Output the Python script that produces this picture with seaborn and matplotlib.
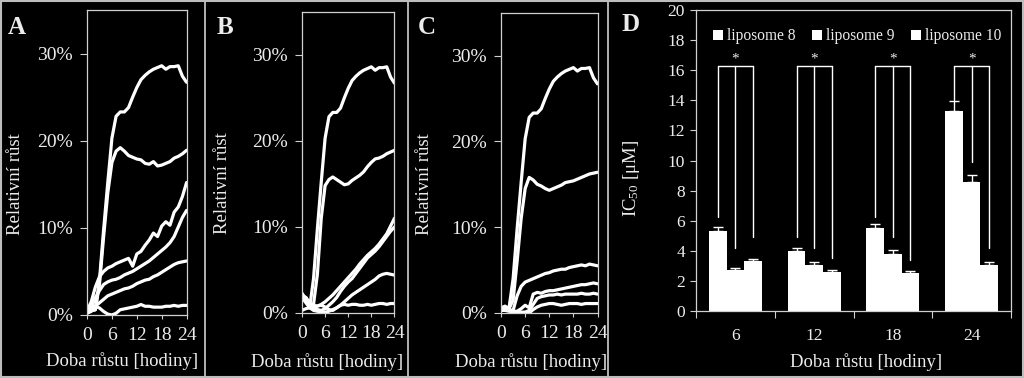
import matplotlib
matplotlib.use("Agg")
import matplotlib.pyplot as plt
from matplotlib.lines import Line2D
from matplotlib.ticker import PercentFormatter, FixedLocator
import pandas as pd
import seaborn as sns

# ---------------- data: growth curves (A-C), % relative growth ----------------
hours = list(range(25))
control = [0.3, 0.5, 0.6, 4.0, 9.8, 15.2, 20.3, 22.8, 23.3, 23.3, 23.8, 25.0, 26.1,
           27.0, 27.5, 27.9, 28.2, 28.4, 28.6, 28.2, 28.5, 28.5, 28.6, 27.4, 26.7]

a_c2 = [0.3, 0.5, 0.6, 3.5, 9.0, 14.0, 17.5, 18.8, 19.2, 18.8, 18.3, 18.1, 17.9,
        17.8, 17.4, 17.3, 17.6, 17.1, 17.2, 17.4, 17.6, 18.0, 18.2, 18.5, 18.9]
a_c3 = [0.5, 1.5, 3.2, 4.4, 5.0, 5.4, 5.6, 5.9, 6.1, 6.3, 6.5, 5.6, 7.0,
        7.3, 8.0, 8.6, 9.4, 9.0, 10.2, 10.7, 10.3, 11.8, 12.4, 13.6, 15.2]
a_c4 = [0.2, 0.8, 2.0, 2.8, 3.5, 3.8, 4.0, 4.1, 4.3, 4.6, 4.8, 5.0, 5.3,
        5.6, 5.9, 6.2, 6.6, 7.0, 7.4, 7.8, 8.3, 9.0, 10.1, 11.2, 12.0]
a_c5 = [0.2, 0.4, 1.0, 1.4, 1.8, 2.2, 2.4, 2.6, 2.8, 3.0, 3.1, 3.3, 3.6,
        3.8, 4.0, 4.1, 4.4, 4.6, 4.9, 5.2, 5.5, 5.8, 6.0, 6.1, 6.2]
a_c6 = [0.8, 0.9, 1.0, 0.8, 0.4, 0.1, 0.0, 0.2, 0.6, 0.7, 0.8, 0.9, 1.0,
        1.2, 1.0, 1.0, 0.9, 0.9, 0.9, 1.0, 1.0, 1.1, 1.0, 1.1, 1.1]

b_c2 = [2.0, 1.8, 1.0, 1.0, 4.5, 11.0, 14.8, 15.5, 15.8, 15.5, 15.2, 14.9, 15.0,
        15.4, 15.7, 16.0, 16.4, 17.0, 17.5, 17.9, 18.0, 18.2, 18.5, 18.7, 18.9]
b_c3 = [2.0, 1.8, 1.2, 0.9, 0.8, 1.0, 1.3, 1.7, 2.1, 2.6, 3.1, 3.6, 4.1,
        4.6, 5.1, 5.7, 6.2, 6.7, 7.1, 7.5, 8.0, 8.6, 9.2, 10.1, 11.0]
b_c4 = [2.2, 1.5, 0.8, 0.5, 0.4, 0.3, 0.5, 0.9, 1.3, 1.8, 2.5, 3.1, 3.6,
        4.0, 4.6, 5.2, 5.8, 6.4, 6.8, 7.2, 7.7, 8.3, 8.9, 9.5, 10.0]
b_c5 = [1.8, 1.2, 0.6, 0.3, 0.2, 0.1, 0.1, 0.2, 0.4, 0.6, 0.9, 1.3, 1.7,
        2.1, 2.4, 2.7, 3.0, 3.3, 3.6, 3.9, 4.3, 4.5, 4.6, 4.5, 4.4]
b_c6 = [2.3, 1.6, 0.9, 0.6, 0.8, 0.9, 0.7, 0.4, 0.3, 0.6, 0.9, 1.0, 0.9,
        1.0, 1.0, 0.9, 0.9, 1.0, 0.9, 1.0, 1.1, 1.1, 1.0, 1.1, 1.1]

c_c2 = [0.6, 0.8, 0.5, 1.5, 6.0, 11.0, 14.5, 15.8, 15.5, 15.0, 14.8, 14.5, 14.3,
        14.5, 14.7, 14.9, 15.2, 15.3, 15.4, 15.6, 15.8, 16.0, 16.2, 16.3, 16.4]
c_c3 = [0.5, 0.6, 0.4, 0.3, 2.0, 3.1, 3.6, 3.8, 4.0, 4.2, 4.4, 4.6, 4.7,
        4.9, 5.0, 5.1, 5.1, 5.3, 5.4, 5.5, 5.6, 5.5, 5.7, 5.6, 5.5]
c_c4 = [0.4, 0.5, 0.3, 0.2, 0.2, 0.5, 0.9, 0.6, 2.2, 2.4, 2.3, 2.5, 2.6,
        2.6, 2.7, 2.8, 2.9, 3.0, 3.1, 3.2, 3.3, 3.3, 3.4, 3.5, 3.4]
c_c5 = [0.4, 0.4, 0.3, 0.2, 0.1, 0.1, 0.1, 0.3, 1.0, 1.7, 1.9, 2.0, 2.1,
        2.1, 2.2, 2.1, 2.2, 2.2, 2.2, 2.2, 2.3, 2.2, 2.2, 2.3, 2.2]
c_c6 = [0.3, 0.3, 0.2, 0.1, 0.0, 0.0, 0.0, 0.0, 0.4, 0.7, 0.9, 1.0, 1.1,
        1.1, 1.0, 0.9, 1.0, 1.1, 1.1, 1.1, 1.0, 1.1, 1.1, 1.1, 1.1]

x_ticks = [0, 6, 12, 18, 24]
y_ticks = [0, 10, 20, 30]

# ---------------- data: IC50 bars (D) ----------------
times_d = ["6", "12", "18", "24"]
liposomes = ["liposome 8", "liposome 9", "liposome 10"]
ic50_lip8 = [5.32, 3.99, 5.49, 13.29]
ic50_lip9 = [2.72, 3.06, 3.79, 8.57]
ic50_lip10 = [3.32, 2.57, 2.50, 3.06]
err_lip8 = [0.28, 0.20, 0.27, 0.66]
err_lip9 = [0.16, 0.17, 0.24, 0.45]
err_lip10 = [0.16, 0.18, 0.13, 0.20]
bracket_lip8 = [6.27, 4.94, 6.27, 14.0]
bracket_lip9 = [4.16, 4.16, 4.90, 9.92]
bracket_lip10 = [4.90, 3.50, 3.39, 4.16]
bracket_top = 16.3
star_y = 16.75
d_yticks = list(range(0, 21, 2))

# ---------------- style ----------------
sns.set_theme(style="ticks")
FG = "#ececec"
SP = "#d0d0d0"
plt.rcParams.update({
    "figure.facecolor": "black",
    "axes.facecolor": "black",
    "savefig.facecolor": "black",
    "axes.edgecolor": SP,
    "axes.labelcolor": FG,
    "xtick.color": SP,
    "ytick.color": SP,
    "xtick.labelcolor": FG,
    "ytick.labelcolor": FG,
    "text.color": FG,
    "mathtext.fontset": "custom",
    "mathtext.rm": "Liberation Serif",
    "mathtext.it": "Liberation Serif:italic",
})
plt.rcParams["font.family"] = ["Liberation Serif", "DejaVu Serif"]

LABEL_FS = 13.5
fig = plt.figure(figsize=(10.24, 3.78), dpi=100)

panels = [
    ("A", [0.0850, 0.1667, 0.0972, 0.8069], [a_c2, a_c3, a_c4, a_c5, a_c6],
     (-0.63, 0.43), (0.35, -0.121), (8, 16)),
    ("B", [0.2949, 0.1720, 0.0903, 0.7970], [b_c2, b_c3, b_c4, b_c5, b_c6],
     (-0.77, 0.43), (0.27, -0.133), (217, 16)),
    ("C", [0.4893, 0.1720, 0.0942, 0.7944], [c_c2, c_c3, c_c4, c_c5, c_c6],
     (-0.71, 0.43), (0.31, -0.133), (418, 16)),
]

for letter, pos, curves, ylc, xlc, lpos in panels:
    ax = fig.add_axes(pos)
    rows = []
    for i, ser in enumerate([control] + curves):
        for h, v in zip(hours, ser):
            rows.append({"t": h, "v": v, "s": f"s{i}"})
    df = pd.DataFrame(rows)
    sns.lineplot(data=df, x="t", y="v", hue="s", palette=["white"] * 6,
                 legend=False, linewidth=2.3, estimator=None, ax=ax)
    ax.set_xlim(0, 24)
    ax.set_ylim(0, 35)
    ax.xaxis.set_major_locator(FixedLocator(x_ticks))
    ax.yaxis.set_major_locator(FixedLocator(y_ticks))
    ax.yaxis.set_major_formatter(PercentFormatter(xmax=100, decimals=0))
    ax.tick_params(axis="x", length=3, pad=6, labelsize=14, width=0.8)
    ax.tick_params(axis="y", length=5, pad=5, labelsize=14, width=0.8)
    for s in ax.spines.values():
        s.set_visible(True)
        s.set_color(SP)
        s.set_linewidth(0.9)
    ax.set_xlabel("Doba růstu [hodiny]", fontsize=LABEL_FS)
    ax.set_ylabel("Relativní růst", fontsize=LABEL_FS)
    ax.yaxis.set_label_coords(*ylc)
    ax.xaxis.set_label_coords(*xlc)
    ax.grid(False)
    fig.text(lpos[0] / 1024, 1 - lpos[1] / 378, letter, fontsize=18,
             fontweight="bold", color=FG, va="top", ha="left")

# ---------------- panel D ----------------
axd = fig.add_axes([0.6797, 0.1772, 0.3076, 0.7963])
dfd = pd.DataFrame({
    "time": times_d * 3,
    "ic50": ic50_lip8 + ic50_lip9 + ic50_lip10,
    "lip": [liposomes[0]] * 4 + [liposomes[1]] * 4 + [liposomes[2]] * 4,
})
sns.barplot(data=dfd, x="time", y="ic50", hue="lip", order=times_d,
            hue_order=liposomes, palette=["white"] * 3, saturation=1,
            width=0.67, errorbar=None, ax=axd, edgecolor="none")

errs = [err_lip8, err_lip9, err_lip10]
brs = [bracket_lip8, bracket_lip9, bracket_lip10]
centers = []
for cont, e_list, b_list in zip(axd.containers, errs, brs):
    cs = []
    for bar, e, b in zip(cont, e_list, b_list):
        xc = bar.get_x() + bar.get_width() / 2
        h = bar.get_height()
        axd.errorbar(xc, h, yerr=[[0], [e]], fmt="none", ecolor="white",
                     elinewidth=1.0, capsize=3.5, capthick=1.0)
        axd.plot([xc, xc], [b, bracket_top], color="white", lw=1.0)
        cs.append(xc)
    centers.append(cs)
for g in range(len(times_d)):
    axd.plot([centers[0][g], centers[2][g]], [bracket_top, bracket_top],
             color="white", lw=1.0)
    axd.text(centers[1][g], star_y, "*", ha="center", va="center",
             fontsize=11, color=FG)

axd.set_xlim(-0.5, 3.5)
axd.set_ylim(0, 20)
axd.yaxis.set_major_locator(FixedLocator(d_yticks))
axd.xaxis.set_minor_locator(FixedLocator([-0.5, 0.5, 1.5, 2.5, 3.5]))
axd.tick_params(axis="x", which="major", length=0, pad=12, labelsize=12.5)
axd.tick_params(axis="x", which="minor", length=5, width=0.8, direction="out")
axd.tick_params(axis="y", length=4, pad=4, labelsize=12.5, width=0.8)
for s in axd.spines.values():
    s.set_visible(True)
    s.set_color(SP)
    s.set_linewidth(0.9)
axd.set_xlabel("Doba růstu [hodiny]", fontsize=LABEL_FS)
axd.set_ylabel("IC$_{50}$ [μM]", fontsize=LABEL_FS)
axd.yaxis.set_label_coords(-0.172, 0.44)
axd.xaxis.set_label_coords(0.54, -0.14)
axd.grid(False)
leg = axd.legend(ncol=3, frameon=False, loc="upper right",
                 bbox_to_anchor=(1.0, 0.97), fontsize=11.2, handlelength=0.6,
                 handleheight=0.6, handletextpad=0.3, columnspacing=1.05,
                 borderaxespad=0.2)
for t in leg.get_texts():
    t.set_color(FG)
fig.text(622 / 1024, 1 - 13 / 378, "D", fontsize=18, fontweight="bold",
         color=FG, va="top", ha="left")

# ---------------- panel separators and outer frame ----------------
for xp in [205, 407.5, 608]:
    fig.add_artist(Line2D([xp / 1024, xp / 1024], [0, 1], color="#cfcfcf",
                          lw=1.2, transform=fig.transFigure))
for xs, ys in [([0, 1], [0.998, 0.998]), ([0, 1], [0.003, 0.003]),
               ([0.001, 0.001], [0, 1]), ([0.999, 0.999], [0, 1])]:
    fig.add_artist(Line2D(xs, ys, color="#bdbdbd", lw=1.5,
                          transform=fig.transFigure))

fig.savefig("out.png", dpi=100)
